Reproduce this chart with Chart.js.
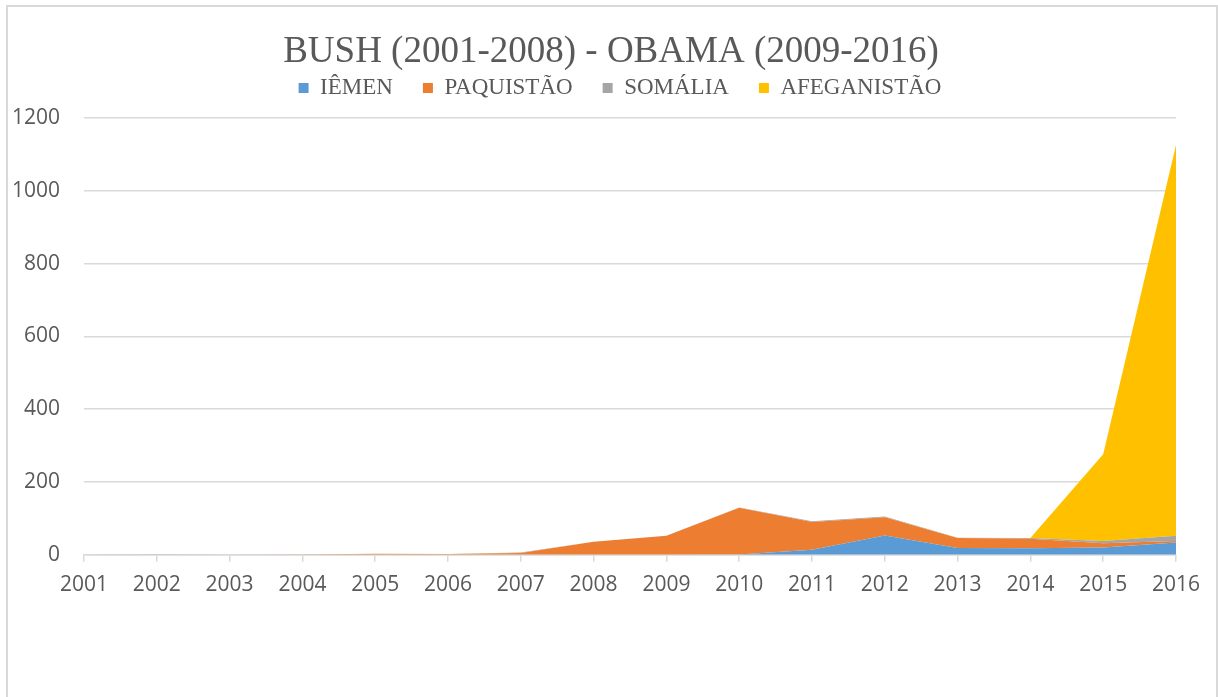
<!DOCTYPE html>
<html>
<head>
<meta charset="utf-8">
<script src="https://cdn.jsdelivr.net/npm/chart.js@4/dist/chart.umd.min.js"></script>
<style>
  html, body { margin: 0; padding: 0; background: #fff; }
  #wrap { position: relative; width: 1218px; height: 697px; overflow: hidden; }
  #frame { position: absolute; left: 6px; top: 5px; width: 1212px; height: 800px; box-sizing: border-box; border: 2px solid #d9d9d9; }
  #c { position: absolute; left: 0; top: 0; }
</style>
</head>
<body>
<div id="wrap">
  <div id="frame"></div>
  <canvas id="c" width="1218" height="697"></canvas>
</div>
<script>
const titleText = 'BUSH (2001-2008) - OBAMA (2009-2016)';
const years = ['2001','2002','2003','2004','2005','2006','2007','2008','2009','2010','2011','2012','2013','2014','2015','2016'];
const iemen       = [0, 1, 0, 0, 0, 0, 0, 0, 0, 1, 14, 53, 19, 18, 20, 34];
const paquistao   = [0, 0, 0, 1, 3, 2, 5, 36, 52, 128, 76, 50, 27, 26, 12, 4];
const somalia     = [0, 0, 0, 0, 0, 0, 1, 0, 0, 1, 2, 2, 1, 2, 6, 14];
const afeganistao = [0, 0, 0, 0, 0, 0, 0, 0, 0, 0, 0, 0, 0, 0, 238, 1074];
const seriesNames = ['IÊMEN', 'PAQUISTÃO', 'SOMÁLIA', 'AFEGANISTÃO'];
const seriesColors = ['#5B9BD5', '#ED7D31', '#A5A5A5', '#FFC000'];
const yTicks = { min: 0, max: 1200, step: 200 };

const seriesData = [iemen, paquistao, somalia, afeganistao];
const datasets = seriesData.map((d, i) => ({
  label: seriesNames[i],
  data: d,
  backgroundColor: seriesColors[i],
  borderColor: seriesColors[i],
  borderWidth: 0,
  pointRadius: 0,
  pointHoverRadius: 0,
  tension: 0,
  fill: i === 0 ? 'origin' : '-1'
}));

const textColor = '#595959';
const gridColor = '#d9d9d9';
const tickFont = { family: '"Open Sans", sans-serif', size: 21 };
const serifFont = '"Liberation Serif", "Times New Roman", serif';

const headerShift = {
  id: 'headerShift',
  afterLayout(chart) {
    if (chart.titleBlock) { chart.titleBlock.left += 18; chart.titleBlock.right += 18; }
    if (chart.legend) { chart.legend.left += 27; chart.legend.right += 27; }
  }
};

new Chart(document.getElementById('c'), {
  type: 'line',
  data: { labels: years, datasets },
  plugins: [headerShift],
  options: {
    responsive: false,
    devicePixelRatio: 1,
    animation: false,
    layout: { padding: { left: 10, right: 42, top: 0, bottom: 88 } },
    plugins: {
      tooltip: { enabled: false },
      title: {
        display: true,
        text: titleText,
        color: textColor,
        font: { family: serifFont, size: 37, weight: 'normal', lineHeight: 1.2 },
        padding: { top: 30.5, bottom: -28.4 }
      },
      legend: {
        display: true,
        position: 'top',
        labels: {
          color: textColor,
          font: { family: serifFont, size: 23 },
          boxWidth: 10,
          boxHeight: 10,
          padding: 30
        }
      }
    },
    scales: {
      x: {
        offset: false,
        grid: { display: true, drawOnChartArea: false, drawTicks: true, tickLength: 7, color: gridColor, lineWidth: 1.5 },
        border: { display: true, color: gridColor, width: 1.5 },
        ticks: { color: textColor, font: tickFont, padding: 11, maxRotation: 0, autoSkip: false }
      },
      xTop: {
        type: 'category',
        position: 'top',
        offset: false,
        grid: { display: true, drawOnChartArea: false, drawTicks: true, tickLength: 8.5, color: 'rgba(0,0,0,0)' },
        border: { display: false },
        ticks: { display: false }
      },
      y: {
        stacked: true,
        min: yTicks.min,
        max: yTicks.max,
        afterFit(scale) { scale.width = 74; },
        grid: { color: gridColor, lineWidth: 1.5, drawTicks: false },
        border: { display: false },
        ticks: { stepSize: yTicks.step, color: textColor, font: tickFont, padding: 24, callback: (v) => String(v) }
      }
    }
  }
});
</script>
</body>
</html>
